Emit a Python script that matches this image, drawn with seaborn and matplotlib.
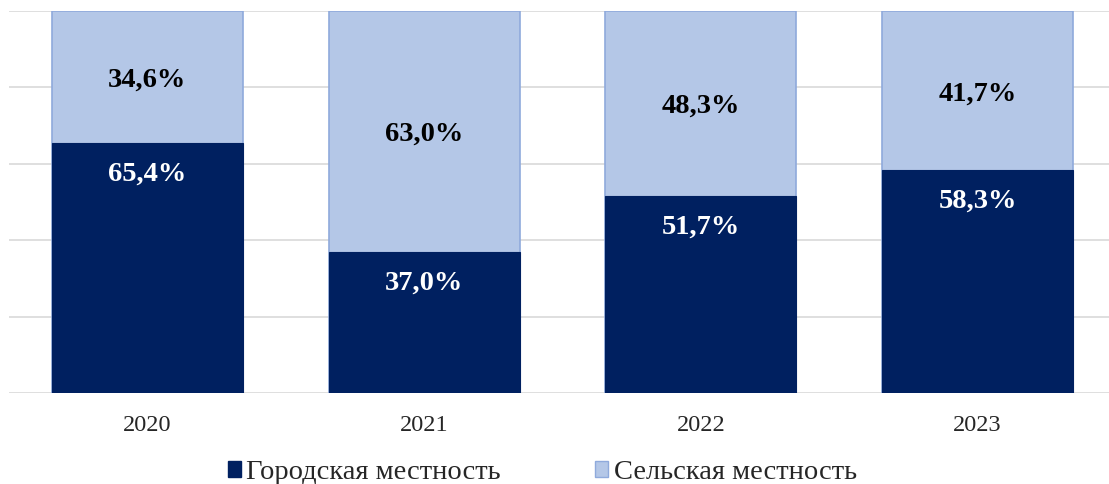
import pandas as pd
import seaborn as sns
import matplotlib.pyplot as plt
from matplotlib.patches import Patch

sns.set_style('white')
plt.rcParams['font.family'] = ['Liberation Serif', 'DejaVu Serif']

years = ['2020', '2021', '2022', '2023']
urban = [65.4, 37.0, 51.7, 58.3]
rural = [34.6, 63.0, 48.3, 41.7]
series_names = ['Городская местность', 'Сельская местность']

dark = '#002060'
light = '#B4C7E7'
light_edge = '#8FAADC'

df = pd.DataFrame({'Год': years, 'urban': urban, 'rural': rural})
df['total'] = df['urban'] + df['rural']

fig = plt.figure(figsize=(11.09, 4.84), dpi=100)
ax = fig.add_axes([9 / 1109, (484 - 393) / 484, 1100 / 1109, 382 / 484])

# верхняя часть (сумма) рисуется первой, нижняя поверх неё
sns.barplot(data=df, x='Год', y='total', color=light, edgecolor=light_edge,
            linewidth=1.2, width=0.69, saturation=1, ax=ax, zorder=2)
sns.barplot(data=df, x='Год', y='urban', color=dark, edgecolor=dark,
            linewidth=0.8, width=0.69, saturation=1, ax=ax, zorder=3)

for i, (u, r) in enumerate(zip(urban, rural)):
    ax.text(i, u + r / 2 - 0.8, f'{r:.1f}%'.replace('.', ','), ha='center', va='center',
            fontsize=20.5, fontweight='bold', color='black', zorder=5)
    ax.text(i, u - 8.2, f'{u:.1f}%'.replace('.', ','), ha='center', va='center',
            fontsize=20.5, fontweight='bold', color='white', zorder=5)

ax.set_ylim(0, 100)
ax.set_xlim(-0.5, 3.475)
ax.set_yticks([0, 20, 40, 60, 80, 100])
ax.yaxis.grid(True, color='#D9D9D9', linewidth=1.2, zorder=0)
ax.set_axisbelow(True)
ax.tick_params(axis='y', left=False, labelleft=False)
ax.tick_params(axis='x', bottom=False, labelsize=17.5, pad=12)
ax.set_xlabel('')
ax.set_ylabel('')
for s in ax.spines.values():
    s.set_visible(False)

handles = [Patch(facecolor=dark, edgecolor=dark),
           Patch(facecolor=light, edgecolor=light_edge)]
fig.legend(handles, series_names, loc='lower center', bbox_to_anchor=(0.489, -0.055),
           ncol=2, frameon=False, fontsize=20.5, handlelength=0.45, handleheight=0.45,
           handletextpad=0.2, columnspacing=3.3)

plt.savefig('out.png', dpi=100)
